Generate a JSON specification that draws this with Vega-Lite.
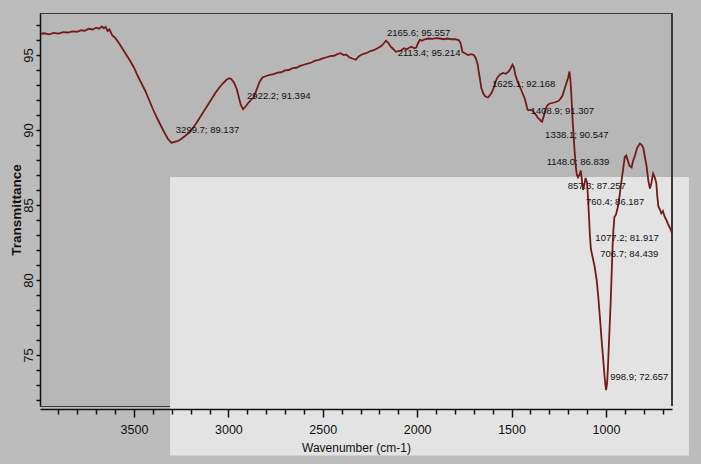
{
  "$schema": "https://vega.github.io/schema/vega-lite/v6.json",
  "width": 632,
  "height": 393,
  "autosize": "none",
  "padding": {"left": 40, "top": 13, "right": 29, "bottom": 58},
  "background": "#bcbcbc",
  "config": {
    "view": {"fill": "#b7b7b7", "stroke": "#3a3a3a", "strokeWidth": 1},
    "font": "Liberation Sans"
  },
  "datasets": {
    "spectrum": [
      {"wn": 3998, "t": 96.4}, {"wn": 3975, "t": 96.45}, {"wn": 3950, "t": 96.38}, {"wn": 3925, "t": 96.47},
      {"wn": 3900, "t": 96.42}, {"wn": 3875, "t": 96.52}, {"wn": 3850, "t": 96.5}, {"wn": 3825, "t": 96.58},
      {"wn": 3800, "t": 96.55}, {"wn": 3780, "t": 96.65}, {"wn": 3760, "t": 96.62}, {"wn": 3740, "t": 96.75},
      {"wn": 3720, "t": 96.7}, {"wn": 3700, "t": 96.82}, {"wn": 3685, "t": 96.75}, {"wn": 3670, "t": 96.9},
      {"wn": 3660, "t": 96.78}, {"wn": 3650, "t": 96.88}, {"wn": 3640, "t": 96.6}, {"wn": 3630, "t": 96.7},
      {"wn": 3615, "t": 96.3}, {"wn": 3600, "t": 96.15}, {"wn": 3580, "t": 95.8}, {"wn": 3560, "t": 95.4},
      {"wn": 3540, "t": 95.0}, {"wn": 3520, "t": 94.6}, {"wn": 3500, "t": 94.15}, {"wn": 3480, "t": 93.6},
      {"wn": 3460, "t": 93.1}, {"wn": 3440, "t": 92.6}, {"wn": 3420, "t": 92.0}, {"wn": 3400, "t": 91.4},
      {"wn": 3380, "t": 90.85}, {"wn": 3360, "t": 90.35}, {"wn": 3340, "t": 89.85}, {"wn": 3320, "t": 89.4},
      {"wn": 3305, "t": 89.2}, {"wn": 3299.7, "t": 89.14}, {"wn": 3290, "t": 89.2}, {"wn": 3270, "t": 89.25},
      {"wn": 3250, "t": 89.4}, {"wn": 3230, "t": 89.6}, {"wn": 3210, "t": 89.8}, {"wn": 3190, "t": 90.1},
      {"wn": 3170, "t": 90.45}, {"wn": 3150, "t": 90.85}, {"wn": 3130, "t": 91.25}, {"wn": 3110, "t": 91.65},
      {"wn": 3090, "t": 92.05}, {"wn": 3070, "t": 92.45}, {"wn": 3050, "t": 92.8}, {"wn": 3030, "t": 93.1},
      {"wn": 3010, "t": 93.35}, {"wn": 2995, "t": 93.45}, {"wn": 2985, "t": 93.4}, {"wn": 2970, "t": 93.15},
      {"wn": 2955, "t": 92.7}, {"wn": 2945, "t": 92.2}, {"wn": 2935, "t": 91.7}, {"wn": 2922.2, "t": 91.39},
      {"wn": 2910, "t": 91.55}, {"wn": 2895, "t": 91.8}, {"wn": 2880, "t": 92.0}, {"wn": 2865, "t": 92.2},
      {"wn": 2850, "t": 92.7}, {"wn": 2835, "t": 93.2}, {"wn": 2820, "t": 93.5}, {"wn": 2800, "t": 93.6},
      {"wn": 2780, "t": 93.68}, {"wn": 2760, "t": 93.72}, {"wn": 2740, "t": 93.82}, {"wn": 2720, "t": 93.85},
      {"wn": 2700, "t": 93.97}, {"wn": 2680, "t": 94.0}, {"wn": 2660, "t": 94.12}, {"wn": 2640, "t": 94.15},
      {"wn": 2620, "t": 94.27}, {"wn": 2600, "t": 94.35}, {"wn": 2580, "t": 94.42}, {"wn": 2560, "t": 94.5},
      {"wn": 2540, "t": 94.62}, {"wn": 2520, "t": 94.68}, {"wn": 2500, "t": 94.77}, {"wn": 2480, "t": 94.85},
      {"wn": 2460, "t": 94.92}, {"wn": 2440, "t": 94.95}, {"wn": 2420, "t": 95.07}, {"wn": 2405, "t": 95.12},
      {"wn": 2390, "t": 95.0}, {"wn": 2375, "t": 95.02}, {"wn": 2360, "t": 94.85}, {"wn": 2340, "t": 94.75},
      {"wn": 2325, "t": 94.68}, {"wn": 2310, "t": 94.9}, {"wn": 2290, "t": 95.05}, {"wn": 2270, "t": 95.12},
      {"wn": 2250, "t": 95.25}, {"wn": 2230, "t": 95.32}, {"wn": 2210, "t": 95.45}, {"wn": 2190, "t": 95.6},
      {"wn": 2175, "t": 95.8}, {"wn": 2165.6, "t": 95.95}, {"wn": 2155, "t": 95.85}, {"wn": 2140, "t": 95.55},
      {"wn": 2127, "t": 95.4}, {"wn": 2113.4, "t": 95.21}, {"wn": 2100, "t": 95.25}, {"wn": 2085, "t": 95.3},
      {"wn": 2070, "t": 95.45}, {"wn": 2055, "t": 95.38}, {"wn": 2040, "t": 95.5}, {"wn": 2030, "t": 95.55},
      {"wn": 2015, "t": 95.45}, {"wn": 2005, "t": 95.5}, {"wn": 1995, "t": 95.8}, {"wn": 1985, "t": 96.02},
      {"wn": 1975, "t": 95.95}, {"wn": 1960, "t": 96.05}, {"wn": 1940, "t": 96.1}, {"wn": 1920, "t": 96.08},
      {"wn": 1900, "t": 96.12}, {"wn": 1880, "t": 96.1}, {"wn": 1860, "t": 96.05}, {"wn": 1840, "t": 96.1},
      {"wn": 1820, "t": 96.05}, {"wn": 1800, "t": 96.06}, {"wn": 1780, "t": 96.0}, {"wn": 1770, "t": 95.8},
      {"wn": 1760, "t": 95.2}, {"wn": 1745, "t": 95.1}, {"wn": 1730, "t": 95.0}, {"wn": 1715, "t": 95.05},
      {"wn": 1700, "t": 95.0}, {"wn": 1690, "t": 94.8}, {"wn": 1680, "t": 94.4}, {"wn": 1670, "t": 93.6},
      {"wn": 1660, "t": 92.8}, {"wn": 1650, "t": 92.45}, {"wn": 1640, "t": 92.25}, {"wn": 1632, "t": 92.2},
      {"wn": 1625.1, "t": 92.17}, {"wn": 1615, "t": 92.3}, {"wn": 1605, "t": 92.5}, {"wn": 1595, "t": 92.8},
      {"wn": 1585, "t": 93.2}, {"wn": 1575, "t": 93.5}, {"wn": 1560, "t": 93.7}, {"wn": 1545, "t": 93.8},
      {"wn": 1530, "t": 93.75}, {"wn": 1515, "t": 93.9}, {"wn": 1505, "t": 94.1}, {"wn": 1495, "t": 94.35},
      {"wn": 1488, "t": 94.2}, {"wn": 1480, "t": 93.7}, {"wn": 1470, "t": 93.3}, {"wn": 1460, "t": 93.0},
      {"wn": 1450, "t": 92.7}, {"wn": 1440, "t": 92.4}, {"wn": 1430, "t": 92.1}, {"wn": 1420, "t": 91.6},
      {"wn": 1415, "t": 91.35}, {"wn": 1408.9, "t": 91.31}, {"wn": 1400, "t": 91.35}, {"wn": 1390, "t": 91.3},
      {"wn": 1380, "t": 91.15}, {"wn": 1370, "t": 91.0}, {"wn": 1360, "t": 90.8}, {"wn": 1350, "t": 90.7},
      {"wn": 1345, "t": 90.6}, {"wn": 1338.1, "t": 90.55}, {"wn": 1330, "t": 90.9}, {"wn": 1320, "t": 91.4},
      {"wn": 1310, "t": 91.65}, {"wn": 1300, "t": 91.75}, {"wn": 1285, "t": 91.8}, {"wn": 1270, "t": 91.85},
      {"wn": 1260, "t": 91.9}, {"wn": 1250, "t": 91.95}, {"wn": 1240, "t": 92.1}, {"wn": 1230, "t": 92.3},
      {"wn": 1220, "t": 92.7}, {"wn": 1210, "t": 93.1}, {"wn": 1200, "t": 93.5}, {"wn": 1193, "t": 93.9},
      {"wn": 1188, "t": 93.3}, {"wn": 1183, "t": 92.3}, {"wn": 1178, "t": 91.0}, {"wn": 1172, "t": 89.8},
      {"wn": 1166, "t": 88.6}, {"wn": 1160, "t": 87.6}, {"wn": 1154, "t": 87.0}, {"wn": 1148, "t": 86.84},
      {"wn": 1140, "t": 87.0}, {"wn": 1133, "t": 87.3}, {"wn": 1127, "t": 86.6}, {"wn": 1121, "t": 86.0},
      {"wn": 1115, "t": 86.3}, {"wn": 1108, "t": 86.8}, {"wn": 1100, "t": 86.5}, {"wn": 1095, "t": 85.5},
      {"wn": 1090, "t": 84.3}, {"wn": 1085, "t": 83.0}, {"wn": 1080, "t": 82.1}, {"wn": 1077.2, "t": 81.92},
      {"wn": 1070, "t": 81.5}, {"wn": 1060, "t": 80.9}, {"wn": 1049, "t": 80.0}, {"wn": 1040, "t": 78.8},
      {"wn": 1030, "t": 77.2}, {"wn": 1023, "t": 76.0}, {"wn": 1015, "t": 74.8}, {"wn": 1008, "t": 73.7},
      {"wn": 1003, "t": 73.0}, {"wn": 998.9, "t": 72.66}, {"wn": 994, "t": 73.1}, {"wn": 990, "t": 74.0},
      {"wn": 985, "t": 75.5}, {"wn": 980, "t": 77.0}, {"wn": 975, "t": 78.5}, {"wn": 970, "t": 80.3},
      {"wn": 965, "t": 82.2}, {"wn": 960, "t": 83.4}, {"wn": 955, "t": 84.2}, {"wn": 947, "t": 84.35},
      {"wn": 938, "t": 84.8}, {"wn": 930, "t": 85.4}, {"wn": 921, "t": 86.3}, {"wn": 910, "t": 87.3},
      {"wn": 900, "t": 88.2}, {"wn": 892, "t": 88.3}, {"wn": 885, "t": 88.0}, {"wn": 875, "t": 87.6},
      {"wn": 864, "t": 87.5}, {"wn": 857.3, "t": 87.9}, {"wn": 846, "t": 88.3}, {"wn": 835, "t": 88.8},
      {"wn": 820, "t": 89.1}, {"wn": 810, "t": 89.0}, {"wn": 802, "t": 88.8}, {"wn": 795, "t": 88.3},
      {"wn": 785, "t": 87.6}, {"wn": 775, "t": 86.6}, {"wn": 767, "t": 86.1}, {"wn": 760.4, "t": 86.4},
      {"wn": 750, "t": 87.1}, {"wn": 740, "t": 86.8}, {"wn": 733, "t": 86.45}, {"wn": 728, "t": 85.6},
      {"wn": 722, "t": 84.9}, {"wn": 714, "t": 84.7}, {"wn": 706.7, "t": 84.44}, {"wn": 698, "t": 84.6},
      {"wn": 690, "t": 84.25}, {"wn": 680, "t": 84.0}, {"wn": 670, "t": 83.7}, {"wn": 662, "t": 83.5},
      {"wn": 655, "t": 83.3}, {"wn": 650, "t": 83.1}
    ],
    "peaks": [
      {"wn": 3299.7, "t": 89.14, "label": "3299.7; 89.137"},
      {"wn": 2922.2, "t": 91.39, "label": "2922.2; 91.394"},
      {"wn": 2165.6, "t": 95.95, "label": "2165.6; 95.557"},
      {"wn": 2113.4, "t": 95.21, "label": "2113.4; 95.214"},
      {"wn": 1625.1, "t": 92.17, "label": "1625.1; 92.168"},
      {"wn": 1408.9, "t": 91.31, "label": "1408.9; 91.307"},
      {"wn": 1338.1, "t": 90.55, "label": "1338.1; 90.547"},
      {"wn": 1148.0, "t": 86.84, "label": "1148.0; 86.839"},
      {"wn": 857.3, "t": 87.26, "label": "857.3; 87.257"},
      {"wn": 760.4, "t": 86.19, "label": "760.4; 86.187"},
      {"wn": 1077.2, "t": 81.92, "label": "1077.2; 81.917"},
      {"wn": 706.7, "t": 84.44, "label": "706.7; 84.439"},
      {"wn": 998.9, "t": 72.66, "label": "998.9; 72.657"}
    ],
    "shade": [
      {"wn_start": 3309, "wn_end": 560, "t_top": 86.87, "t_bottom": 68.3}
    ]
  },
  "encoding": {
    "x": {
      "field": "wn", "type": "quantitative",
      "scale": {"domain": [650, 3998], "reverse": true, "nice": false, "zero": false},
      "axis": {
        "title": "Wavenumber (cm-1)",
        "values": [700, 800, 900, 1000, 1100, 1200, 1300, 1400, 1500, 1600, 1700, 1800, 1900, 2000, 2100, 2200, 2300, 2400, 2500, 2600, 2700, 2800, 2900, 3000, 3100, 3200, 3300, 3400, 3500, 3600, 3700, 3800, 3900],
        "format": "d",
        "labelExpr": "datum.value % 500 === 0 ? datum.label : ''",
        "tickSize": {"condition": {"test": "datum.value % 500 === 0", "value": 8}, "value": 5},
        "tickColor": "#111", "tickWidth": 1.5,
        "domainColor": "#111", "domainWidth": 1.5,
        "offset": 3, "grid": false, "zindex": 1,
        "labelFontSize": 12.5, "labelColor": "#111", "labelPadding": 6, "labelFlush": false, "labelOverlap": false,
        "titleFontSize": 12, "titleFontWeight": "normal", "titleColor": "#111", "titlePadding": 7
      }
    },
    "y": {
      "field": "t", "type": "quantitative",
      "scale": {"domain": [71.6, 97.8], "nice": false, "zero": false},
      "axis": {
        "title": "Transmittance",
        "values": [72, 73, 74, 75, 76, 77, 78, 79, 80, 81, 82, 83, 84, 85, 86, 87, 88, 89, 90, 91, 92, 93, 94, 95, 96, 97],
        "labelExpr": "datum.value % 5 === 0 ? datum.label : ''",
        "labelAngle": -90, "labelFontSize": 13, "labelColor": "#111", "labelPadding": 1, "labelOverlap": false,
        "tickSize": 4, "tickColor": "#111", "tickWidth": 1.5,
        "domainColor": "#111", "domainWidth": 1.5, "grid": false, "zindex": 1,
        "titleFontSize": 13.5, "titleFontWeight": "bold", "titleColor": "#111", "titlePadding": -1
      }
    }
  },
  "layer": [
    {
      "data": {"name": "shade"},
      "mark": {"type": "rect", "fill": "#e3e3e3", "clip": false},
      "encoding": {
        "x": {"field": "wn_start", "type": "quantitative"},
        "x2": {"field": "wn_end"},
        "y": {"field": "t_top", "type": "quantitative"},
        "y2": {"field": "t_bottom"}
      }
    },
    {
      "data": {"name": "spectrum"},
      "mark": {"type": "rule", "color": "#3a3a3a", "strokeWidth": 1},
      "encoding": {"x": {"datum": 650}, "y": null}
    },
    {
      "data": {"name": "spectrum"},
      "mark": {"type": "line", "color": "#741a1a", "strokeWidth": 1.8, "interpolate": "linear"}
    },
    {
      "data": {"name": "peaks"},
      "transform": [{"filter": {"field": "label", "oneOf": ["3299.7; 89.137", "2922.2; 91.394", "1625.1; 92.168", "1077.2; 81.917", "998.9; 72.657"]}}],
      "mark": {"type": "text", "align": "left", "baseline": "middle", "dx": 4, "dy": -13, "fontSize": 9.5, "color": "#111"},
      "encoding": {"text": {"field": "label"}}
    },
    {
      "data": {"name": "peaks"},
      "transform": [{"filter": {"field": "label", "equal": "2165.6; 95.557"}}],
      "mark": {"type": "text", "align": "left", "baseline": "middle", "dx": 1, "dy": -8, "fontSize": 9.5, "color": "#111"},
      "encoding": {"text": {"field": "label"}}
    },
    {
      "data": {"name": "peaks"},
      "transform": [{"filter": {"field": "label", "oneOf": ["2113.4; 95.214", "1408.9; 91.307"]}}],
      "mark": {"type": "text", "align": "left", "baseline": "middle", "dx": 2, "dy": 1, "fontSize": 9.5, "color": "#111"},
      "encoding": {"text": {"field": "label"}}
    },
    {
      "data": {"name": "peaks"},
      "transform": [{"filter": {"field": "label", "equal": "1338.1; 90.547"}}],
      "mark": {"type": "text", "align": "left", "baseline": "middle", "dx": 3, "dy": 13, "fontSize": 9.5, "color": "#111"},
      "encoding": {"text": {"field": "label"}}
    },
    {
      "data": {"name": "peaks"},
      "transform": [{"filter": {"field": "label", "equal": "1148.0; 86.839"}}],
      "mark": {"type": "text", "align": "center", "baseline": "middle", "dx": 0, "dy": -15, "fontSize": 9.5, "color": "#111"},
      "encoding": {"text": {"field": "label"}}
    },
    {
      "data": {"name": "peaks"},
      "transform": [{"filter": {"field": "label", "oneOf": ["857.3; 87.257", "760.4; 86.187"]}}],
      "mark": {"type": "text", "align": "right", "baseline": "middle", "dx": -7, "dy": 15, "fontSize": 9.5, "color": "#111"},
      "encoding": {"text": {"field": "label"}}
    },
    {
      "data": {"name": "peaks"},
      "transform": [{"filter": {"field": "label", "equal": "706.7; 84.439"}}],
      "mark": {"type": "text", "align": "right", "baseline": "middle", "dx": -3, "dy": 41, "fontSize": 9.5, "color": "#111"},
      "encoding": {"text": {"field": "label"}}
    }
  ]
}
